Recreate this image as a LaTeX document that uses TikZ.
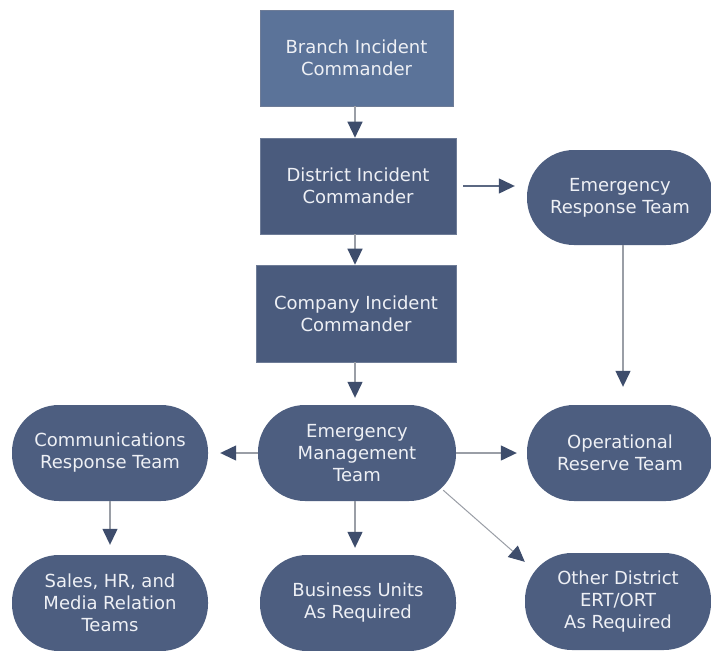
\documentclass[tikz,border=0pt]{standalone}
\usepackage{fontspec}
\setmainfont{DejaVu Sans}
\usetikzlibrary{arrows.meta}
\definecolor{boxlight}{HTML}{5B7399}
\definecolor{boxdark}{HTML}{4A5B7D}
\definecolor{roundc}{HTML}{4D5E80}
\definecolor{headc}{HTML}{3E4D6C}
\definecolor{linec}{HTML}{9A9EA6}
\definecolor{txtc}{HTML}{EEF0F5}
\tikzset{
  base/.style={text=txtc, align=center, inner sep=0pt,
    font=\fontsize{18}{22}\selectfont},
  sqbox/.style={base, fill=boxdark, draw=boxdark!80!white, line width=0.6pt},
  rbox/.style={base, fill=roundc, rounded corners=47pt},
  conn/.style={draw=linec, line width=1.3pt,
    -{Triangle[length=16pt,width=15pt,color=headc]}},
}
\begin{document}
\begin{tikzpicture}[x=1pt,y=-1pt]
\useasboundingbox[fill=white] (0,0) rectangle (711,650);
% rectangles
\node[sqbox, fill=boxlight, minimum width=193pt, minimum height=96pt] (bic) at (356.5,58) {Branch Incident\\Commander};
\node[sqbox, minimum width=196pt, minimum height=96pt] (dic) at (358,186) {District Incident\\Commander};
\node[sqbox, minimum width=200pt, minimum height=97pt] (cic) at (356,313.5) {Company Incident\\Commander};
% rounded
\node[rbox, minimum width=186pt, minimum height=95pt] (ert) at (620,197.5) {Emergency\\Response Team};
\node[rbox, minimum width=198pt, minimum height=96pt] (emt) at (357,453) {Emergency\\Management\\Team};
\node[rbox, minimum width=196pt, minimum height=96pt] (crt) at (110,453) {Communications\\Response Team};
\node[rbox, minimum width=186pt, minimum height=96pt] (ort) at (620,453) {Operational\\Reserve Team};
\node[rbox, minimum width=196pt, minimum height=96pt] (shr) at (110,603) {Sales, HR, and\\Media Relation\\Teams};
\node[rbox, minimum width=196pt, minimum height=96pt] (bu) at (358,603) {Business Units\\As Required};
\node[rbox, minimum width=186pt, minimum height=97pt] (odo) at (618,601.5) {Other District\\ERT/ORT\\As Required};
% connectors
\draw[conn] (bic.south -| 355,0) -- (dic.north -| 355,0);
\draw[conn] (dic.south -| 355,0) -- (cic.north -| 355,0);
\draw[conn, draw=headc!85!white, shorten <=7pt, shorten >=12pt] (dic.east) -- (ert.west |- dic.east);
\draw[conn, shorten >=18pt] (ert.south -| 623,0) -- (ort.north -| 623,0);
\draw[conn, shorten >=7pt] (cic.south -| 355,0) -- (emt.north -| 355,0);
\draw[conn, shorten >=12pt] (emt.west) -- (crt.east);
\draw[conn, shorten >=10pt] (emt.east) -- (ort.west);
\draw[conn, shorten >=10pt] (crt.south) -- (shr.north);
\draw[conn, shorten >=7pt] (emt.south -| 355,0) -- (bu.north -| 355,0);
\draw[conn, line width=1pt] ([shift={(-13pt,11pt)}]emt.south east) -- ([shift={(0pt,-9pt)}]odo.north west);
\end{tikzpicture}
\end{document}
